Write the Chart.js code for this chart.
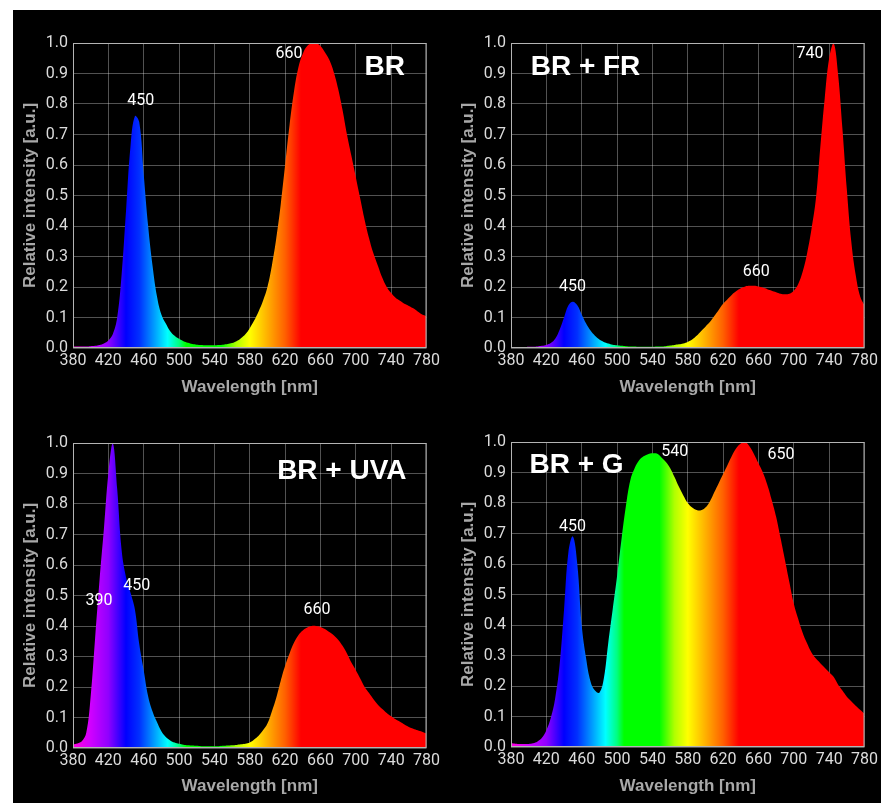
<!DOCTYPE html>
<html>
<head>
<meta charset="utf-8">
<script src="https://cdn.jsdelivr.net/npm/chart.js@4.4.0/dist/chart.umd.min.js"></script>
<style>
  html, body { margin: 0; padding: 0; background: #fff; }
  body { width: 881px; height: 803px; position: relative; overflow: hidden; }
  #bg { position: absolute; left: 13px; top: 10px; width: 868px; height: 793px; background: #000; }
  canvas { position: absolute; }
</style>
</head>
<body>
<div id="bg"></div>
<canvas id="cBR" width="430" height="395" style="left:13px;top:10px"></canvas>
<canvas id="cFR" width="430" height="395" style="left:451px;top:10px"></canvas>
<canvas id="cUVA" width="430" height="393" style="left:13px;top:410px"></canvas>
<canvas id="cG" width="430" height="393" style="left:451px;top:410px"></canvas>
<script>

// wavelength grid, nm
var wavelengths = [
  380, 385, 390, 395, 400, 405, 410, 415, 420, 425,
  430, 435, 440, 445, 450, 455, 460, 465, 470, 475,
  480, 485, 490, 495, 500, 505, 510, 515, 520, 525,
  530, 535, 540, 545, 550, 555, 560, 565, 570, 575,
  580, 585, 590, 595, 600, 605, 610, 615, 620, 625,
  630, 635, 640, 645, 650, 655, 660, 665, 670, 675,
  680, 685, 690, 695, 700, 705, 710, 715, 720, 725,
  730, 735, 740, 745, 750, 755, 760, 765, 770, 775,
  780
];

var specBR = [
  0.005, 0.005, 0.005, 0.005, 0.006, 0.007, 0.010, 0.015, 0.025, 0.045,
  0.10, 0.24, 0.45, 0.66, 0.76, 0.74, 0.57, 0.40, 0.27, 0.17,
  0.11, 0.08, 0.055, 0.04, 0.03, 0.022, 0.017, 0.013, 0.011, 0.010,
  0.009, 0.009, 0.009, 0.010, 0.011, 0.013, 0.016, 0.022, 0.032, 0.045,
  0.065, 0.09, 0.12, 0.155, 0.20, 0.27, 0.36, 0.47, 0.60, 0.73,
  0.84, 0.92, 0.965, 0.99, 1.0, 1.0, 0.99, 0.97, 0.945, 0.905,
  0.85, 0.78, 0.70, 0.63, 0.56, 0.49, 0.42, 0.36, 0.31, 0.27,
  0.23, 0.20, 0.18, 0.165, 0.155, 0.145, 0.138, 0.13, 0.12, 0.11,
  0.105
];

var specFR = [
  0.003, 0.003, 0.003, 0.003, 0.004, 0.004, 0.005, 0.007, 0.010, 0.016,
  0.03, 0.06, 0.10, 0.14, 0.152, 0.14, 0.11, 0.08, 0.057, 0.04,
  0.028, 0.02, 0.015, 0.011, 0.009, 0.007, 0.006, 0.005, 0.005, 0.004,
  0.004, 0.004, 0.004, 0.005, 0.005, 0.006, 0.008, 0.010, 0.012, 0.015,
  0.02, 0.028, 0.04, 0.055, 0.07, 0.085, 0.105, 0.125, 0.145, 0.16,
  0.175, 0.187, 0.196, 0.202, 0.204, 0.204, 0.202, 0.198, 0.193, 0.188,
  0.183, 0.178, 0.176, 0.178, 0.188, 0.21, 0.25, 0.31, 0.39, 0.49,
  0.66, 0.82, 0.95, 1.0, 0.9, 0.72, 0.52, 0.35, 0.24, 0.17,
  0.14
];

var specUVA = [
  0.012, 0.015, 0.022, 0.05, 0.17, 0.36, 0.55, 0.72, 0.90, 1.0,
  0.85, 0.65, 0.56, 0.51, 0.455, 0.34, 0.255, 0.17, 0.12, 0.085,
  0.055, 0.036, 0.025, 0.018, 0.014, 0.011, 0.009, 0.008, 0.007, 0.006,
  0.006, 0.006, 0.006, 0.006, 0.007, 0.008, 0.009, 0.010, 0.012, 0.014,
  0.018, 0.028, 0.04, 0.058, 0.08, 0.12, 0.165, 0.22, 0.27, 0.31,
  0.345, 0.37, 0.385, 0.395, 0.40, 0.40, 0.397, 0.39, 0.38, 0.37,
  0.355, 0.335, 0.31, 0.28, 0.255, 0.228, 0.20, 0.18, 0.16, 0.142,
  0.128, 0.115, 0.104, 0.094, 0.086, 0.077, 0.069, 0.063, 0.058, 0.053,
  0.047
];

var specG = [
  0.012, 0.011, 0.010, 0.010, 0.010, 0.012, 0.018, 0.03, 0.055, 0.095,
  0.16, 0.27, 0.45, 0.64, 0.69, 0.60, 0.40, 0.29, 0.215, 0.185,
  0.178, 0.225, 0.34, 0.45, 0.56, 0.68, 0.79, 0.875, 0.915, 0.94,
  0.953, 0.96, 0.963, 0.962, 0.95, 0.935, 0.915, 0.885, 0.853, 0.825,
  0.80, 0.785, 0.777, 0.776, 0.785, 0.805, 0.835, 0.865, 0.895, 0.925,
  0.955, 0.98, 0.995, 1.0, 0.985, 0.96, 0.93, 0.90, 0.86, 0.81,
  0.755, 0.685, 0.613, 0.54, 0.47, 0.42, 0.375, 0.34, 0.31, 0.29,
  0.275, 0.26, 0.245, 0.23, 0.205, 0.185, 0.165, 0.15, 0.135, 0.122,
  0.109
];

// colour of the fill along the spectrum
var stopNm    = [380, 400, 420, 440, 455, 470, 487, 500, 508, 548, 565, 580, 600, 620, 638, 780];
var stopColor = ['#ff00dd', '#d000ff', '#9000ff', '#0000ff', '#0030ff', '#0090ff', '#00ffff', '#00ff80',
                 '#00ff00', '#00ff00', '#b0ff00', '#ffff00', '#ffb000', '#ff6000', '#ff0000', '#ff0000'];

var xTicks = [380, 420, 460, 500, 540, 580, 620, 660, 700, 740, 780];

var peakLabelPlugin = {
    id: 'peakLabels',
    afterDatasetsDraw: function(chart, args, opts) {
        var c = chart.ctx, a = chart.chartArea;
        var xs = chart.scales.x, ys = chart.scales.y;
        c.save();
        c.strokeStyle = '#b4b4b4';
        c.lineWidth = 1;
        c.strokeRect(a.left + 0.5, a.top + 0.5, a.right - a.left - 1, a.bottom - a.top - 1);
        c.fillStyle = '#ffffff';
        c.textAlign = 'center';
        c.textBaseline = 'middle';
        (opts.items || []).forEach(function(it) {
            c.font = it.big ? 'bold 28px "Liberation Sans", Arial, sans-serif' : '16px Roboto, sans-serif';
            c.fillText(it.text, xs.getPixelForValue(it.x), ys.getPixelForValue(it.y));
        });
        c.restore();
    }
};

function spectrumFill(context) {
    var chart = context.chart;
    if (!chart.chartArea) return '#ff0000';
    var xs = chart.scales.x;
    var x0 = xs.getPixelForValue(380), x1 = xs.getPixelForValue(780);
    var g = chart.ctx.createLinearGradient(x0, 0, x1, 0);
    for (var i = 0; i < stopNm.length; i++) {
        g.addColorStop((stopNm[i] - 380) / 400, stopColor[i]);
    }
    return g;
}

function makeChart(id, values, labels, padTop, xHeight, titleBottom) {
    var ctx = document.getElementById(id).getContext('2d');
    return new Chart(ctx, {
        type: 'line',
        data: {
            datasets: [{
                data: wavelengths.map(function(w, i) { return { x: w, y: values[i] }; }),
                backgroundColor: spectrumFill,
                borderWidth: 0,
                pointRadius: 0,
                fill: 'origin',
                tension: 0.4
            }]
        },
        options: {
            responsive: false,
            animation: false,
            layout: { padding: { top: padTop, right: 14, left: 0, bottom: 0 } },
            plugins: {
                legend: { display: false },
                tooltip: { enabled: false },
                peakLabels: { items: labels }
            },
            scales: {
                x: {
                    type: 'linear',
                    min: 380,
                    max: 780,
                    afterBuildTicks: function(scale) {
                        scale.ticks = xTicks.map(function(v) { return { value: v }; });
                    },
                    afterFit: function(scale) { scale.height = xHeight; },
                    grid: { color: 'rgba(255,255,255,0.32)', drawTicks: false },
                    border: { display: false },
                    ticks: {
                        color: '#dcdcdc',
                        padding: 3,
                        maxRotation: 0,
                        autoSkip: false,
                        font: { family: 'Roboto', size: 16 }
                    },
                    title: {
                        display: true,
                        text: 'Wavelength [nm]',
                        color: '#a8a8a8',
                        padding: { top: 4, bottom: titleBottom },
                        font: { family: '"Liberation Sans", Arial, sans-serif', size: 17, weight: 'bold' }
                    }
                },
                y: {
                    min: 0,
                    max: 1,
                    afterFit: function(scale) { scale.width = 60; },
                    grid: { color: 'rgba(255,255,255,0.32)', drawTicks: false },
                    border: { display: false },
                    ticks: {
                        stepSize: 0.1,
                        color: '#dcdcdc',
                        padding: 5,
                        font: { family: 'Roboto', size: 16 },
                        callback: function(v) { return v.toFixed(1); }
                    },
                    title: {
                        display: true,
                        text: 'Relative intensity [a.u.]',
                        color: '#a8a8a8',
                        padding: { top: 7, bottom: 4 },
                        font: { family: '"Liberation Sans", Arial, sans-serif', size: 17, weight: 'bold' }
                    }
                }
            }
        },
        plugins: [peakLabelPlugin]
    });
}

var chartBR = makeChart('cBR', specBR, [
    { text: '450', x: 456.6, y: 0.81 },
    { text: '660', x: 624.5, y: 0.964 },
    { text: 'BR', x: 732.7, y: 0.921, big: true }
], 33, 57, 7);

var chartFR = makeChart('cFR', specFR, [
    { text: '450', x: 449.7, y: 0.20 },
    { text: '660', x: 657.5, y: 0.249 },
    { text: '740', x: 718.2, y: 0.964 },
    { text: 'BR + FR', x: 464.3, y: 0.921, big: true }
], 33, 57, 7);

var chartUVA = makeChart('cUVA', specUVA, [
    { text: '390', x: 409.3, y: 0.482 },
    { text: '450', x: 452.1, y: 0.531 },
    { text: '660', x: 656, y: 0.452 },
    { text: 'BR + UVA', x: 684.2, y: 0.908, big: true }
], 33, 55, 6);

var chartG = makeChart('cG', specG, [
    { text: '450', x: 449.7, y: 0.72 },
    { text: '540', x: 565.4, y: 0.967 },
    { text: '650', x: 685.6, y: 0.957 },
    { text: 'BR + G', x: 454.2, y: 0.925, big: true }
], 32, 56, 6);

</script>
</body>
</html>
